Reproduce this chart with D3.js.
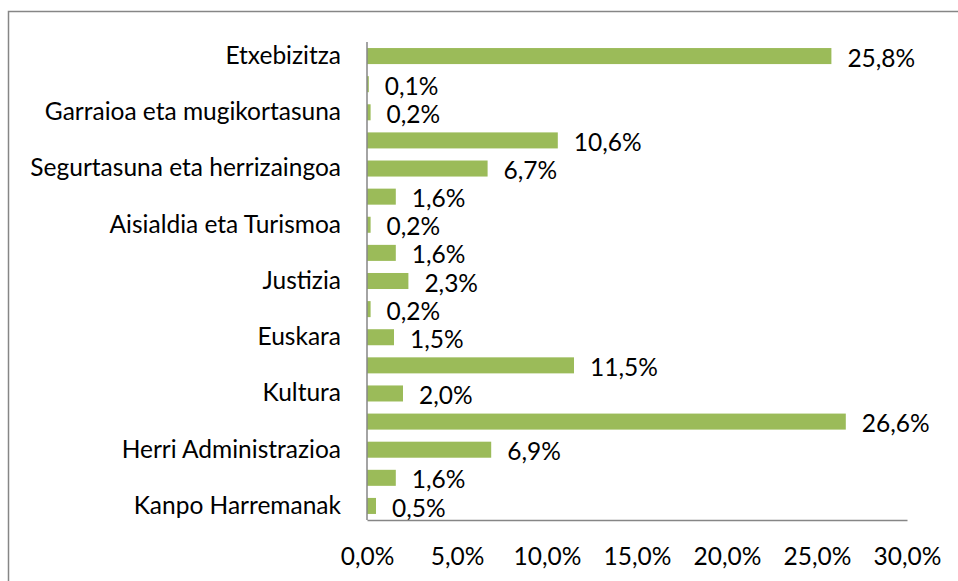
<!DOCTYPE html>
<html>
<head>
<meta charset="utf-8">
<script src="https://cdn.jsdelivr.net/npm/d3@7"></script>
<style>
  body { margin: 0; background: #fff; }
  text { font-family: Lato, "Open Sans", sans-serif; fill: #000; }
</style>
</head>
<body>
<svg width="958" height="581"></svg>
<script>
// rows top to bottom; Excel skipped every other label, so those are blank
var categories = ["Etxebizitza", "", "Garraioa eta mugikortasuna", "", "Segurtasuna eta herrizaingoa", "",
  "Aisialdia eta Turismoa", "", "Justizia", "", "Euskara", "", "Kultura", "", "Herri Administrazioa", "", "Kanpo Harremanak"];
var values = [25.8, 0.1, 0.2, 10.6, 6.7, 1.6, 0.2, 1.6, 2.3, 0.2, 1.5, 11.5, 2.0, 26.6, 6.9, 1.6, 0.5];
var xTicks = [0, 5, 10, 15, 20, 25, 30];

var svg = d3.select("svg");
var plotLeft = 367, plotRight = 907, plotTop = 42, plotBottom = 520;
var fontSize = 24.5;
var fmt = function(v){ return v.toFixed(1).replace(".", ",") + "%"; };

// chart frame
svg.append("rect")
  .attr("x", 8.5).attr("y", 11.5)
  .attr("width", 960).attr("height", 600)
  .attr("fill", "none").attr("stroke", "#868686").attr("stroke-width", 1.5);

var x = d3.scaleLinear().domain([0, 30]).range([plotLeft, plotRight]);
var y = d3.scaleBand().domain(d3.range(values.length)).range([plotTop, plotBottom]).paddingInner(0.43).paddingOuter(0.215);

svg.selectAll("rect.bar").data(values).enter().append("rect")
  .attr("class", "bar")
  .attr("x", x(0))
  .attr("y", function(d, i){ return y(i); })
  .attr("width", function(d){ return x(d) - x(0); })
  .attr("height", y.bandwidth())
  .attr("fill", "#9bbb59");

svg.selectAll("text.val").data(values).enter().append("text")
  .attr("class", "val")
  .attr("x", function(d){ return x(d) + 16; })
  .attr("y", function(d, i){ return y(i) + y.bandwidth() / 2 + 2; })
  .attr("dy", "0.35em")
  .attr("font-size", fontSize)
  .text(fmt);

// category axis
var yAxis = d3.axisLeft(y).tickSize(0).tickPadding(26).tickFormat(function(i){ return categories[i]; });
var gy = svg.append("g").attr("transform", "translate(" + plotLeft + ",0)").call(yAxis);
gy.select(".domain").attr("stroke", "#868686").attr("stroke-width", 1.5)
  .attr("d", "M0," + plotTop + "V" + plotBottom);
gy.selectAll("text").attr("font-size", fontSize).attr("font-family", null);

// value axis
var xAxis = d3.axisBottom(x).tickValues(xTicks).tickSize(0).tickPadding(28).tickFormat(fmt);
var gx = svg.append("g").attr("transform", "translate(0," + plotBottom + ")").call(xAxis);
gx.select(".domain").attr("stroke", "#868686").attr("stroke-width", 1.5);
gx.selectAll("text").attr("font-size", fontSize).attr("font-family", null);
</script>
</body>
</html>
